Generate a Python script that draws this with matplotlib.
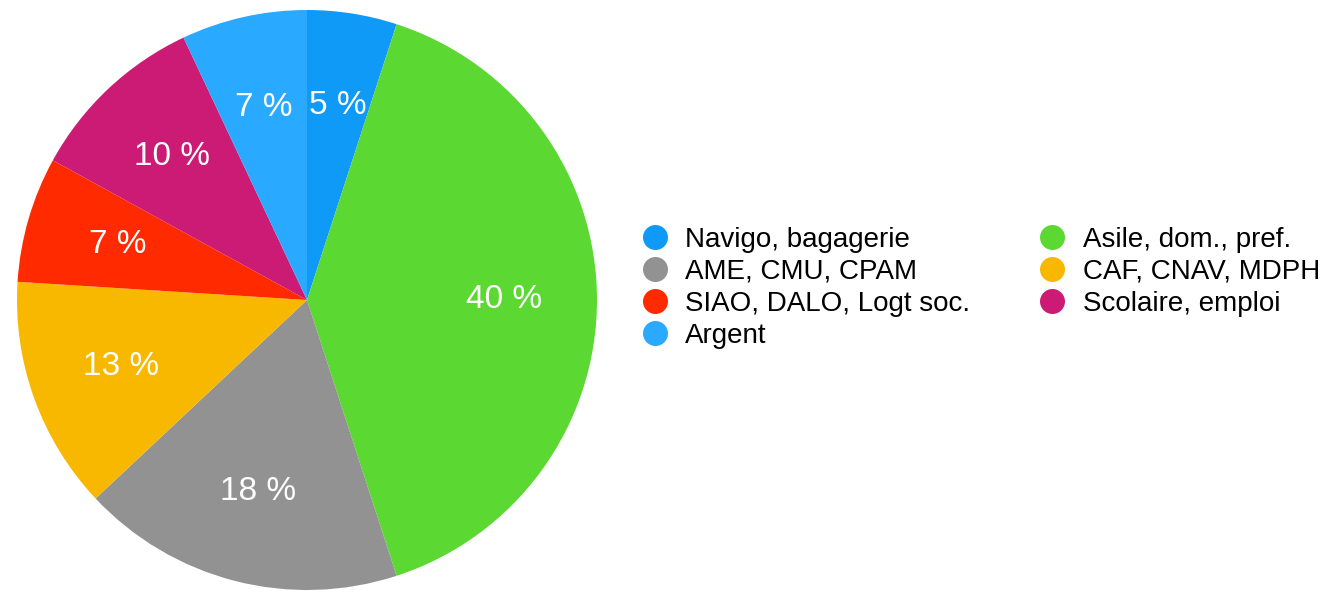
import matplotlib.pyplot as plt
from matplotlib.lines import Line2D

# data
labels = ['Navigo, bagagerie', 'Asile, dom., pref.', 'AME, CMU, CPAM', 'CAF, CNAV, MDPH',
          'SIAO, DALO, Logt soc.', 'Scolaire, emploi', 'Argent']
values = [5, 40, 18, 13, 7, 10, 7]
colors = ['#0F9AF7', '#5CD832', '#929292', '#F8B800', '#FF2A00', '#CC1B74', '#29A9FF']
legend_order = [0, 2, 4, 6, 1, 3, 5]

plt.rcParams['font.family'] = ['Liberation Sans', 'DejaVu Sans']

fig = plt.figure(figsize=(13.23, 5.92), dpi=100)
ax = fig.add_axes([17/1323, 2/592, 580/1323, 580/592])

wedges, texts, autotexts = ax.pie(values, colors=colors, startangle=90, counterclock=False,
                                  autopct=lambda p: '%d %%' % round(p), pctdistance=0.68,
                                  wedgeprops=dict(linewidth=0))
for t in autotexts:
    t.set_color('white')
    t.set_fontsize(24)
ax.set_xlim(-1, 1)
ax.set_ylim(-1, 1)
ax.set_aspect('equal')

handles = [Line2D([], [], marker='o', linestyle='none', markersize=18,
                  markerfacecolor=colors[i], markeredgewidth=0) for i in legend_order]
fig.legend(handles, [labels[i] for i in legend_order], ncol=2, frameon=False,
           loc='center left', bbox_to_anchor=(634/1323, 1 - 288/592),
           fontsize=20, handlelength=0.7, handletextpad=0.75, columnspacing=2.6,
           labelspacing=0.22, borderaxespad=0)

fig.savefig('out.png', dpi=100)
